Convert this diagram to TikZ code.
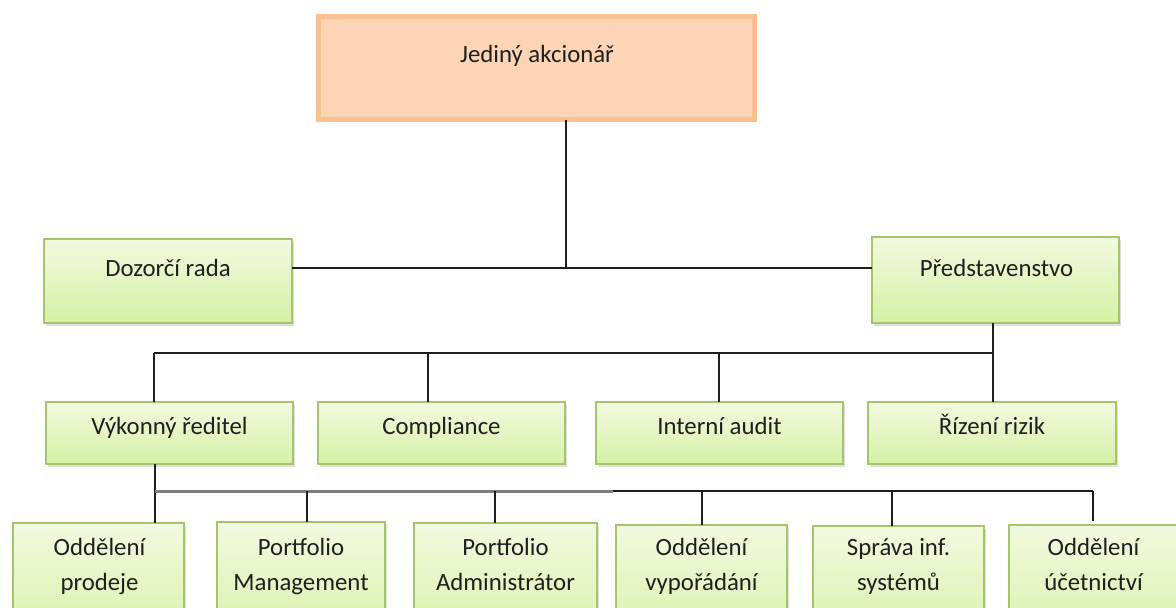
\documentclass[tikz,border=0pt]{standalone}
\usepackage{fontspec}
\setmainfont{Carlito}
\usetikzlibrary{shadows}
\definecolor{gtop}{HTML}{F2FADF}
\definecolor{gbot}{HTML}{D6F0A6}
\definecolor{gline}{HTML}{A6C46A}
\definecolor{ofill}{HTML}{FBD5B5}
\definecolor{oline}{HTML}{FAC090}
\definecolor{txt}{HTML}{1F1F1F}
\definecolor{connc}{HTML}{1E1E1E}
\definecolor{busgray}{HTML}{7F7F7F}
\newcommand{\twoline}[2]{\begin{tabular}[t]{@{}c@{}}#1\\#2\end{tabular}}
\begin{document}
\begin{tikzpicture}[x=1pt,y=-1pt,
  gbox/.style={draw=gline, line width=1.6pt, top color=gtop, bottom color=gbot,
    rectangle, inner sep=0pt, outer sep=0pt,
    drop shadow={shadow xshift=1.5pt, shadow yshift=-2.5pt, opacity=0.25}},
  obox/.style={draw=oline, line width=5pt, fill=ofill, rectangle, inner sep=0pt, outer sep=0pt,
    drop shadow={shadow xshift=1.5pt, shadow yshift=-2.5pt, opacity=0.2}},
  lbl/.style={anchor=base, inner sep=0pt, text=txt, font=\fontsize{24.8}{35}\selectfont},
  conn/.style={draw=connc, line width=2pt},
  graybus/.style={draw=busgray, line width=3pt}]
\clip (0,0) rectangle (1176,608);

% boxes
\node[obox, minimum width=436pt, minimum height=103pt] (ja) at (536.5,68) {};
\node[gbox, minimum width=248pt, minimum height=84pt] (dr) at (168,281) {};
\node[gbox, minimum width=247pt, minimum height=86pt] (pr) at (995.5,280) {};

\node[gbox, minimum width=247pt, minimum height=62pt] (vr) at (169.5,433) {};
\node[gbox, minimum width=247pt, minimum height=62pt] (co) at (441.5,433) {};
\node[gbox, minimum width=247pt, minimum height=62pt] (ia) at (719.5,433) {};
\node[gbox, minimum width=248pt, minimum height=62pt] (rr) at (992,433) {};

\node[gbox, minimum width=171pt, minimum height=127pt, anchor=north] (op) at (98.5,523) {};
\node[gbox, minimum width=168pt, minimum height=127pt, anchor=north] (pm) at (301,522) {};
\node[gbox, minimum width=183pt, minimum height=127pt, anchor=north] (pa) at (505.5,523) {};
\node[gbox, minimum width=171pt, minimum height=127pt, anchor=north] (ov) at (701.5,525) {};
\node[gbox, minimum width=171pt, minimum height=127pt, anchor=north] (si) at (898.5,526) {};
\node[gbox, minimum width=169pt, minimum height=127pt, anchor=north] (ou) at (1093.5,525) {};

% texts
\node[lbl] (tja) at (537,62) {Jediný akcionář};
\node[lbl] (tdr) at (168,276) {Dozorčí rada};
\node[lbl] (tpr) at (996.5,276) {Představenstvo};
\node[lbl] (tvr) at (169.5,434) {Výkonný ředitel};
\node[lbl] (tco) at (441.5,434) {Compliance};
\node[lbl] (tia) at (719.5,434) {Interní audit};
\node[lbl] (trr) at (992,434) {Řízení rizik};
\node[lbl] (top) at (99.5,555) {\twoline{Oddělení}{prodeje}};
\node[lbl] (tpm) at (301,555) {\twoline{Portfolio}{Management}};
\node[lbl] (tpa) at (505.5,555) {\twoline{Portfolio}{Administrátor}};
\node[lbl] (tov) at (701.5,555) {\twoline{Oddělení}{vypořádání}};
\node[lbl] (tsi) at (898.5,555) {\twoline{Správa inf.}{systémů}};
\node[lbl] (tou) at (1093.5,555) {\twoline{Oddělení}{účetnictví}};

% junction coordinates
\coordinate (j1) at (566,268);
\coordinate (d2a) at (154,353);
\coordinate (d2b) at (428,353);
\coordinate (d2c) at (719,353);
\coordinate (d2d) at (993,353);
\coordinate (d3a) at (155,491);
\coordinate (d3b) at (307,491);
\coordinate (d3c) at (495,491);
\coordinate (d3d) at (702,491);
\coordinate (d3e) at (892,491);
\coordinate (d3f) at (1093,491);
\coordinate (d3m) at (613,491);

% connectors level 1
\draw[conn] (ja.south -| j1) -- (j1);
\draw[conn] (dr.east |- j1) -- (pr.west |- j1);

% level 2
\draw[conn] (pr.south -| d2d) -- (rr.north -| d2d);
\draw[conn] (d2a) -- (d2d);
\draw[conn] (d2a) -- (vr.north -| d2a);
\draw[conn] (d2b) -- (co.north -| d2b);
\draw[conn] (d2c) -- (ia.north -| d2c);

% level 3
\draw[conn] (vr.south -| d3a) -- (op.north -| d3a);
\draw[conn] (d3m) -- (d3f);
\draw[graybus] (d3a) -- (d3m);
\draw[conn] (d3b) -- (pm.north -| d3b);
\draw[conn] (d3c) -- (pa.north -| d3c);
\draw[conn] (d3d) -- (ov.north -| d3d);
\draw[conn] (d3e) -- (si.north -| d3e);
\draw[conn] (d3f) -- ([yshift=4pt]ou.north -| d3f);
\end{tikzpicture}
\end{document}
